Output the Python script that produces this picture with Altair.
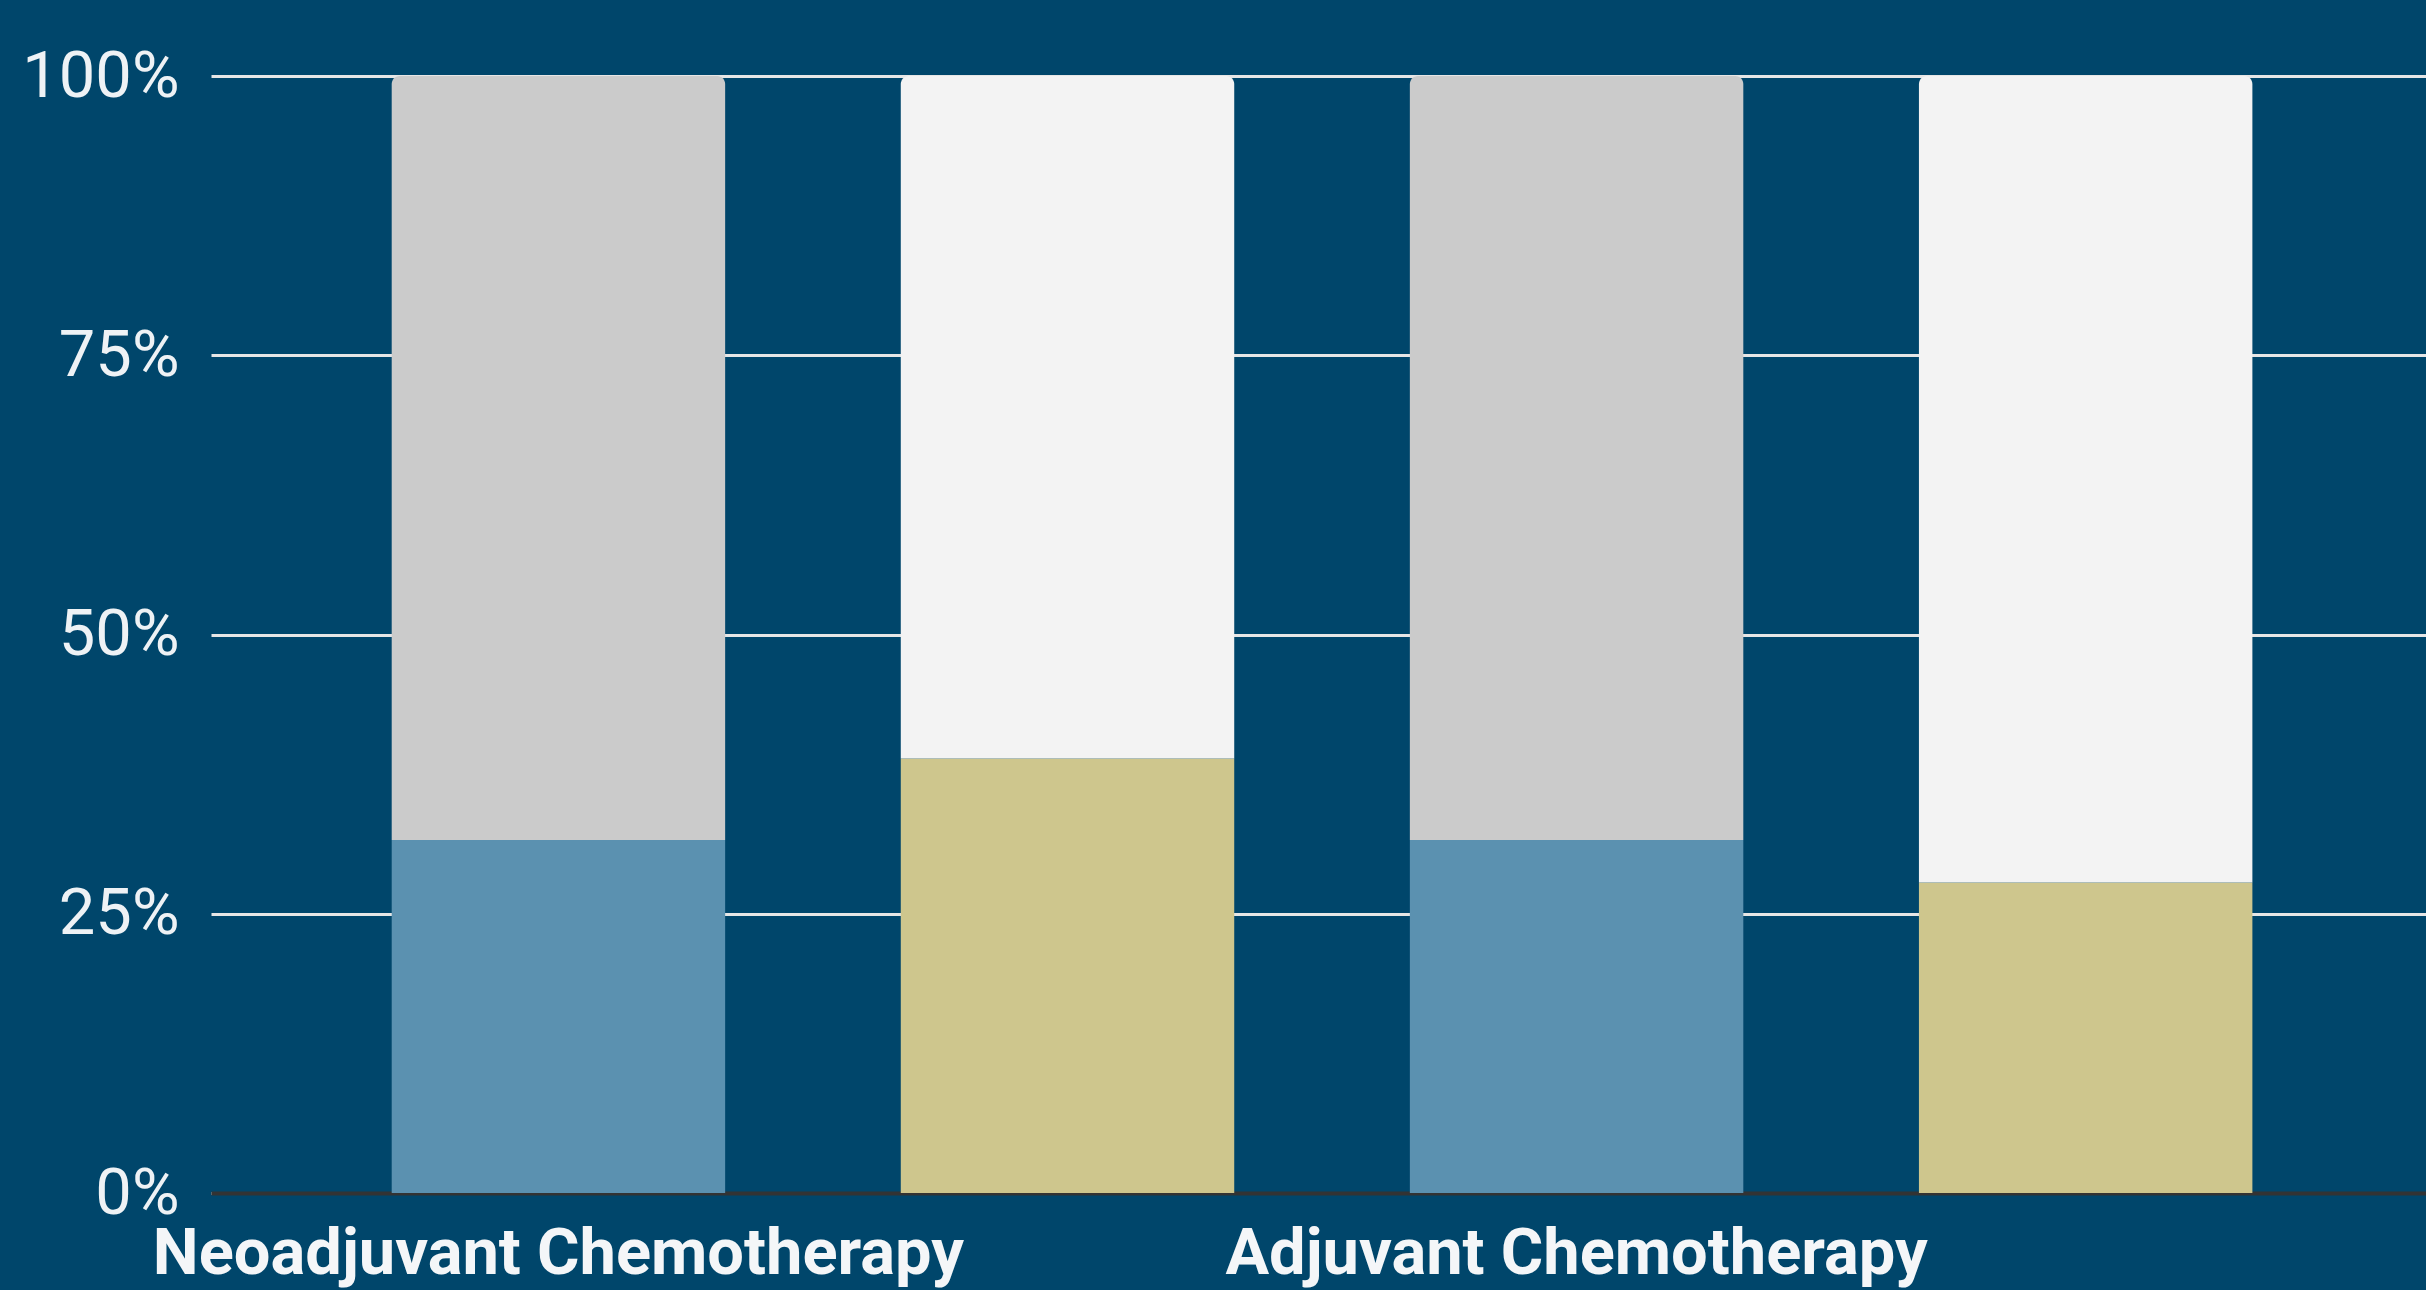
import altair as alt
import pandas as pd

# ---- data ----
bar_ids = ["neo_a", "neo_b", "adj_a", "adj_b"]
axis_labels = ["Neoadjuvant Chemotherapy", "", "Adjuvant Chemotherapy", ""]
lower_series = ["Group A", "Group B", "Group A", "Group B"]
upper_series = ["Group A rest", "Group B rest", "Group A rest", "Group B rest"]
lower_pct = [31.6, 38.9, 31.6, 27.8]
upper_pct = [68.4, 61.1, 68.4, 72.2]

series_domain = ["Group A", "Group B", "Group A rest", "Group B rest"]
series_colors = ["#5b91b0", "#cec68d", "#cbcbcb", "#f3f3f3"]

df = pd.DataFrame({
    "bar": bar_ids,
    "lower": lower_pct,
    "upper": upper_pct,
    "lower_series": lower_series,
    "upper_series": upper_series,
})

label_expr = " : ".join(
    f"datum.value == '{b}' ? '{l}'" for b, l in zip(bar_ids, axis_labels) if l
) + " : ''"

x_enc = alt.X(
    "bar:N",
    sort=bar_ids,
    title=None,
    scale=alt.Scale(paddingInner=0.345, paddingOuter=0.348, align=0.51),
    axis=alt.Axis(
        labelExpr=label_expr,
        labelAngle=0,
        labelFont="Roboto",
        labelFontWeight="bold",
        labelFontSize=65,
        labelColor="#f4f6f8",
        labelPadding=29,
        labelLimit=2000,
        labelOverlap=False,
        labelBound=False,
        ticks=False,
        domain=True,
        domainColor="#333333",
        domainWidth=4,
        grid=False,
    ),
)

y_scale = alt.Scale(domain=[0, 100], nice=False)
y_axis = alt.Axis(
    values=[0, 25, 50, 75, 100],
    labelExpr="datum.value + '%'",
    labelFont="Roboto",
    labelFontSize=65,
    labelColor="#eef2f5",
    labelPadding=32,
    ticks=False,
    domain=False,
    grid=True,
    gridColor="#e6e6e6",
    gridWidth=3,
    title=None,
)

color_scale = alt.Scale(domain=series_domain, range=series_colors)

base = alt.Chart(df)

lower_layer = base.mark_bar().encode(
    x=x_enc,
    y=alt.Y("zero:Q", scale=y_scale, axis=y_axis),
    y2="lower:Q",
    color=alt.Color("lower_series:N", scale=color_scale, legend=None),
).transform_calculate(zero="0")

upper_layer = base.mark_bar(cornerRadiusTopLeft=8, cornerRadiusTopRight=8).encode(
    x=x_enc,
    y=alt.Y("lower:Q", scale=y_scale, axis=y_axis),
    y2="total:Q",
    color=alt.Color("upper_series:N", scale=color_scale, legend=None),
).transform_calculate(total="datum.lower + datum.upper")

chart = alt.layer(lower_layer, upper_layer).properties(
    width=2215,
    height=1117,
    background="#00466b",
    padding={"left": 211, "top": 76, "right": 0, "bottom": 97},
    autosize=alt.AutoSizeParams(type="none"),
).configure_view(stroke=None)

chart.save("out.html", embed_options={"renderer": "svg", "actions": False})
